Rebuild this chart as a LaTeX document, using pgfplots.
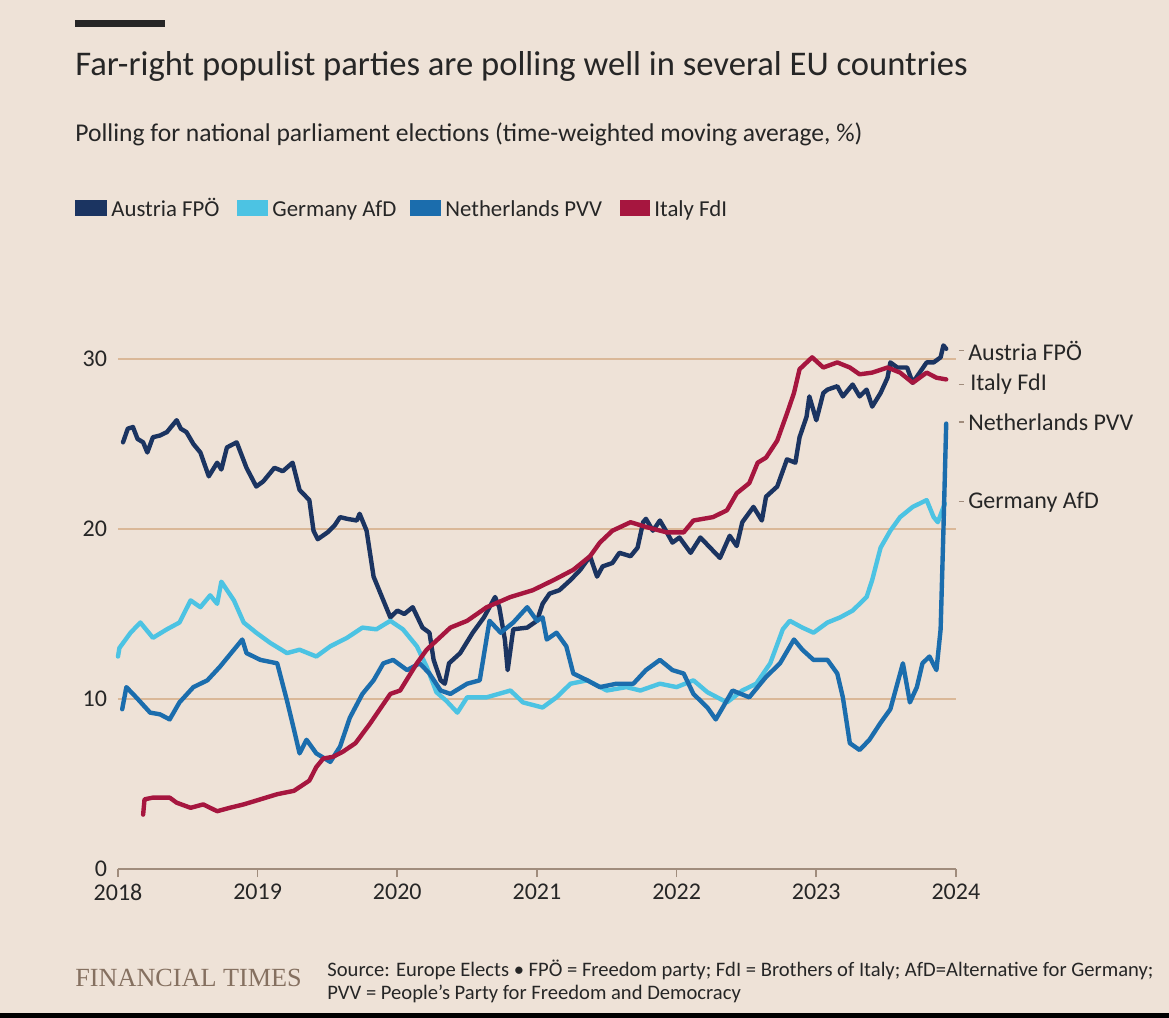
\documentclass[border=0pt]{standalone}
\usepackage{pgfplots}
\pgfplotsset{compat=1.18}
\usepackage{fontspec}
\setmainfont{Carlito}
\newfontfamily\ftserif{Liberation Serif}
\definecolor{bg}{HTML}{EEE2D7}
\definecolor{gridc}{HTML}{DAB898}
\definecolor{axc}{HTML}{A08C7C}
\definecolor{navy}{HTML}{1B3461}
\definecolor{cyanc}{HTML}{4CC3E3}
\definecolor{bluec}{HTML}{1B6DAD}
\definecolor{redc}{HTML}{A6163F}
\definecolor{txt}{HTML}{262626}
\definecolor{ftc}{HTML}{857060}
\begin{document}
\begin{tikzpicture}
\begin{scope}[x=0.5pt,y=-0.5pt]
\path[use as bounding box] (0,0) rectangle (1169,1018);
\fill[bg] (0,0) rectangle (1169,1018);
\fill[black] (0,1013) rectangle (1169,1018);
\fill[txt] (75,20) rectangle (165,27);
\node[anchor=base west, inner sep=0, text=txt, font=\fontsize{17.3}{20}\selectfont] at (75,75) {Far-right populist parties are polling well in several EU countries};
\node[anchor=base west, inner sep=0, text=txt, font=\fontsize{12.8}{15}\selectfont] at (75,141) {Polling for national parliament elections (time-weighted moving average, \%)};
% legend
\fill[navy] (75,200) rectangle (107,216);
\node[anchor=base west, inner sep=0, text=txt, font=\fontsize{11.4}{13}\selectfont] at (111,216) {Austria FPÖ};
\fill[cyanc] (237,200) rectangle (268,216);
\node[anchor=base west, inner sep=0, text=txt, font=\fontsize{11.4}{13}\selectfont] at (272,216) {Germany AfD};
\fill[bluec] (410,200) rectangle (441,216);
\node[anchor=base west, inner sep=0, text=txt, font=\fontsize{11.4}{13}\selectfont] at (445,216) {Netherlands PVV};
\fill[redc] (620,200) rectangle (650,216);
\node[anchor=base west, inner sep=0, text=txt, font=\fontsize{11.4}{13}\selectfont] at (654,216) {Italy FdI};
% footer
\node[anchor=base west, inner sep=0, text=ftc, font=\ftserif\fontsize{13.1}{16}\selectfont] at (75,986) {FINANCIAL TIMES};
\node[anchor=base west, inner sep=0, text=txt, font=\fontsize{10.3}{12}\selectfont] at (327,976) {Source: Europe Elects \textbullet{} FPÖ = Freedom party; FdI = Brothers of Italy; AfD=Alternative for Germany;};
\node[anchor=base west, inner sep=0, text=txt, font=\fontsize{10.3}{12}\selectfont] at (327,999) {PVV = People's Party for Freedom and Democracy};
\end{scope}
\begin{axis}[
  at={(59pt,-434.5pt)}, anchor=south west,
  scale only axis, width=419pt, height=263.5pt,
  xmin=2018, xmax=2024, ymin=0, ymax=31,
  xtick={2018,2019,...,2024}, ytick={0,10,20,30},
  /pgf/number format/1000 sep={},
  /pgf/number format/assume math mode=true,
  axis x line*=bottom, axis y line*=left,
  x axis line style={draw=axc, line width=0.8pt, -},
  y axis line style={draw=none},
  xtick style={draw=axc, line width=0.8pt},
  ytick style={draw=none},
  tick align=outside, major tick length=4pt,
  ymajorgrids, grid style={draw=gridc, line width=0.6pt},
  ticklabel style={font=\fontsize{12}{14}\selectfont, text=txt},
  yticklabel style={anchor=east, xshift=2pt},
  clip=false,
  every axis plot/.append style={line width=2.2pt, line join=round, line cap=round},
]
\addplot[navy] coordinates {
(2018.036,25.1)(2018.07,25.9)(2018.107,26.0)(2018.14,25.3)(2018.18,25.1)(2018.21,24.5)(2018.25,25.4)(2018.30,25.5)(2018.35,25.7)(2018.42,26.4)(2018.45,25.9)(2018.49,25.7)(2018.54,25.0)(2018.59,24.5)(2018.65,23.1)(2018.71,23.9)(2018.74,23.5)(2018.78,24.8)(2018.85,25.1)(2018.92,23.6)(2018.99,22.5)(2019.04,22.8)(2019.09,23.3)(2019.12,23.6)(2019.18,23.4)(2019.25,23.9)(2019.30,22.3)(2019.37,21.7)(2019.40,19.9)(2019.43,19.4)(2019.50,19.8)(2019.55,20.2)(2019.59,20.7)(2019.64,20.6)(2019.71,20.5)(2019.73,20.9)(2019.78,19.9)(2019.83,17.2)(2019.87,16.4)(2019.95,14.8)(2020.00,15.2)(2020.05,15.0)(2020.11,15.4)(2020.18,14.2)(2020.23,13.9)(2020.26,12.3)(2020.31,11.1)(2020.34,10.9)(2020.37,12.1)(2020.45,12.7)(2020.54,13.9)(2020.62,14.8)(2020.70,16.0)(2020.73,15.4)(2020.77,13.5)(2020.79,11.7)(2020.83,14.1)(2020.93,14.2)(2021.00,14.6)(2021.04,15.6)(2021.09,16.2)(2021.16,16.4)(2021.24,17.0)(2021.31,17.6)(2021.38,18.4)(2021.43,17.2)(2021.47,17.8)(2021.54,18.0)(2021.59,18.6)(2021.67,18.4)(2021.72,18.9)(2021.76,20.4)(2021.78,20.6)(2021.83,19.9)(2021.88,20.5)(2021.93,19.8)(2021.97,19.2)(2022.02,19.5)(2022.10,18.6)(2022.17,19.5)(2022.24,18.9)(2022.31,18.3)(2022.38,19.6)(2022.43,19.0)(2022.47,20.4)(2022.55,21.3)(2022.61,20.5)(2022.64,21.9)(2022.72,22.5)(2022.79,24.1)(2022.85,23.9)(2022.88,25.4)(2022.93,26.6)(2022.95,27.8)(2023.00,26.4)(2023.05,28.0)(2023.08,28.2)(2023.15,28.4)(2023.19,27.8)(2023.26,28.5)(2023.31,27.8)(2023.36,28.2)(2023.40,27.2)(2023.46,28.0)(2023.51,28.9)(2023.53,29.8)(2023.58,29.5)(2023.65,29.5)(2023.69,28.6)(2023.74,29.2)(2023.79,29.8)(2023.84,29.8)(2023.89,30.1)(2023.91,30.8)(2023.93,30.6)
};
\addplot[cyanc] coordinates {
(2018.00,12.5)(2018.01,13.0)(2018.09,13.9)(2018.16,14.5)(2018.25,13.6)(2018.35,14.1)(2018.44,14.5)(2018.52,15.8)(2018.59,15.4)(2018.66,16.1)(2018.71,15.6)(2018.74,16.9)(2018.83,15.8)(2018.90,14.5)(2018.99,13.9)(2019.09,13.3)(2019.21,12.7)(2019.30,12.9)(2019.42,12.5)(2019.52,13.1)(2019.64,13.6)(2019.75,14.2)(2019.85,14.1)(2019.95,14.6)(2020.04,14.1)(2020.14,13.1)(2020.21,11.9)(2020.28,10.4)(2020.35,9.9)(2020.43,9.2)(2020.50,10.1)(2020.64,10.1)(2020.81,10.5)(2020.90,9.8)(2021.04,9.5)(2021.14,10.1)(2021.24,10.9)(2021.36,11.1)(2021.50,10.5)(2021.64,10.7)(2021.74,10.5)(2021.88,10.9)(2022.00,10.7)(2022.12,11.1)(2022.22,10.4)(2022.36,9.8)(2022.47,10.5)(2022.57,10.9)(2022.67,12.1)(2022.76,14.1)(2022.81,14.6)(2022.90,14.2)(2022.98,13.9)(2023.08,14.5)(2023.17,14.8)(2023.26,15.2)(2023.36,16.0)(2023.40,17.0)(2023.46,18.9)(2023.53,19.9)(2023.60,20.7)(2023.69,21.3)(2023.79,21.7)(2023.84,20.7)(2023.87,20.4)(2023.92,21.5)
};
\addplot[bluec] coordinates {
(2018.03,9.4)(2018.06,10.7)(2018.13,10.1)(2018.23,9.2)(2018.30,9.1)(2018.37,8.8)(2018.44,9.8)(2018.54,10.7)(2018.64,11.1)(2018.73,11.9)(2018.83,12.9)(2018.89,13.5)(2018.92,12.7)(2019.02,12.3)(2019.14,12.1)(2019.21,9.9)(2019.26,8.2)(2019.30,6.8)(2019.35,7.6)(2019.42,6.8)(2019.52,6.3)(2019.59,7.2)(2019.66,8.9)(2019.75,10.3)(2019.83,11.1)(2019.90,12.1)(2019.97,12.3)(2020.07,11.7)(2020.16,12.1)(2020.23,11.5)(2020.31,10.5)(2020.38,10.3)(2020.50,10.9)(2020.59,11.1)(2020.66,14.6)(2020.74,13.9)(2020.83,14.5)(2020.93,15.4)(2021.00,14.6)(2021.04,14.8)(2021.07,13.5)(2021.14,13.9)(2021.21,13.1)(2021.26,11.5)(2021.36,11.1)(2021.45,10.7)(2021.57,10.9)(2021.69,10.9)(2021.78,11.7)(2021.88,12.3)(2021.97,11.7)(2022.05,11.5)(2022.12,10.3)(2022.22,9.5)(2022.28,8.8)(2022.33,9.5)(2022.40,10.5)(2022.52,10.1)(2022.64,11.3)(2022.74,12.1)(2022.84,13.5)(2022.90,12.9)(2022.98,12.3)(2023.08,12.3)(2023.15,11.5)(2023.19,10.1)(2023.24,7.4)(2023.31,7.0)(2023.38,7.6)(2023.46,8.6)(2023.53,9.4)(2023.58,10.9)(2023.62,12.1)(2023.67,9.8)(2023.72,10.7)(2023.76,12.1)(2023.81,12.5)(2023.86,11.7)(2023.89,14.1)(2023.91,19.9)(2023.93,26.2)
};
\addplot[redc] coordinates {
(2018.18,3.2)(2018.19,4.1)(2018.25,4.2)(2018.37,4.2)(2018.42,3.9)(2018.52,3.6)(2018.61,3.8)(2018.71,3.4)(2018.80,3.6)(2018.90,3.8)(2019.02,4.1)(2019.14,4.4)(2019.26,4.6)(2019.37,5.2)(2019.42,6.0)(2019.47,6.5)(2019.54,6.6)(2019.61,6.9)(2019.70,7.4)(2019.80,8.5)(2019.95,10.3)(2020.02,10.5)(2020.14,12.1)(2020.21,12.9)(2020.38,14.2)(2020.50,14.6)(2020.64,15.4)(2020.81,16.0)(2020.97,16.4)(2021.12,17.0)(2021.26,17.6)(2021.38,18.4)(2021.45,19.2)(2021.54,19.9)(2021.67,20.4)(2021.79,20.1)(2021.93,19.8)(2022.05,19.8)(2022.12,20.5)(2022.26,20.7)(2022.36,21.1)(2022.43,22.1)(2022.52,22.7)(2022.58,23.9)(2022.64,24.2)(2022.72,25.2)(2022.79,26.8)(2022.84,28.0)(2022.88,29.4)(2022.97,30.1)(2023.05,29.5)(2023.15,29.8)(2023.24,29.5)(2023.31,29.1)(2023.40,29.2)(2023.51,29.5)(2023.60,29.2)(2023.69,28.6)(2023.79,29.2)(2023.86,28.9)(2023.93,28.8)
};
% end labels
\begin{scope}[every node/.style={anchor=west, inner sep=0, text=txt, font=\fontsize{12}{14}\selectfont}]
\draw[axc, line width=0.6pt] (axis cs:2024.02,30.5) -- (axis cs:2024.055,30.5) node[right=2pt] {Austria FPÖ};
\draw[axc, line width=0.6pt] (axis cs:2024.02,28.5) -- (axis cs:2024.055,28.5) node[right=3pt] {Italy FdI};
\draw[axc, line width=0.6pt] (axis cs:2024.02,26.3) -- (axis cs:2024.055,26.3) node[right=2pt] {Netherlands PVV};
\draw[axc, line width=0.6pt] (axis cs:2024.02,21.6) -- (axis cs:2024.055,21.6) node[right=2pt] {Germany AfD};
\end{scope}
\end{axis}
\end{tikzpicture}
\end{document}
